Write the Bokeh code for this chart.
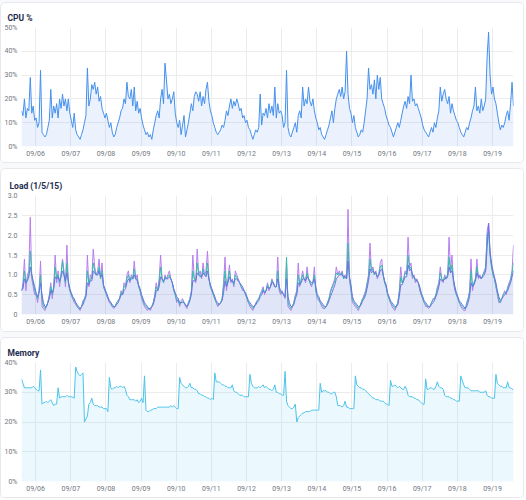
import pandas as pd
from bokeh.plotting import figure
from bokeh.models import (ColumnDataSource, Range1d, FixedTicker, DatetimeTickFormatter,
                          PrintfTickFormatter, LinearAxis)
from bokeh.layouts import column
from bokeh.embed import file_html
from bokeh.resources import INLINE

# Hourly samples starting at this timestamp
START = "2024-09-05 14:20"

# Day ticks on the time axis
day_ticks = ["2024-09-06", "2024-09-07", "2024-09-08", "2024-09-09", "2024-09-10",
             "2024-09-11", "2024-09-12", "2024-09-13", "2024-09-14", "2024-09-15",
             "2024-09-16", "2024-09-17", "2024-09-18", "2024-09-19"]

# CPU usage, percent (one row per day)
cpu_pct = [
    15, 13, 20, 12, 16, 15, 29, 14, 17, 11,
    12, 8, 10, 32, 6, 5, 4, 5, 8, 11, 24, 12, 17, 14, 18, 12, 20, 16, 22, 17, 20, 15, 20, 14,
    11, 8, 14, 7, 5, 4, 3, 5, 7, 10, 13, 33, 17, 20, 26, 24, 27, 22, 25, 19, 21, 16, 14, 12,
    14, 11, 8, 10, 6, 4, 5, 8, 10, 12, 15, 16, 20, 18, 27, 21, 20, 24, 17, 25, 15, 19, 14, 16,
    12, 9, 7, 5, 6, 4, 5, 3, 7, 10, 13, 15, 12, 20, 24, 18, 35, 28, 20, 22, 18, 20, 23, 14,
    10, 8, 11, 5, 9, 13, 4, 7, 10, 14, 18, 15, 21, 23, 22, 19, 23, 17, 21, 18, 24, 27, 19, 15,
    13, 10, 8, 6, 5, 6, 7, 9, 8, 11, 15, 13, 17, 20, 16, 19, 17, 20, 18, 15, 16, 12, 13, 10,
    11, 8, 7, 5, 3, 5, 7, 6, 8, 22, 9, 14, 13, 16, 12, 18, 14, 17, 13, 25, 12, 18, 14, 15,
    13, 8, 10, 32, 8, 5, 4, 6, 8, 10, 6, 13, 15, 12, 25, 17, 20, 18, 25, 19, 17, 20, 15, 12,
    10, 7, 8, 5, 4, 3, 5, 7, 9, 12, 15, 10, 16, 20, 22, 24, 21, 25, 20, 23, 40, 22, 16, 14,
    10, 13, 8, 6, 4, 5, 7, 6, 10, 15, 20, 33, 24, 26, 22, 28, 20, 30, 24, 29, 20, 18, 16, 13,
    11, 9, 8, 6, 4, 6, 8, 10, 8, 11, 14, 17, 19, 16, 21, 18, 30, 19, 20, 17, 18, 16, 14, 12,
    9, 7, 6, 5, 4, 6, 8, 6, 10, 8, 12, 15, 25, 19, 22, 24, 20, 18, 21, 14, 18, 15, 13, 11,
    10, 8, 6, 5, 4, 6, 8, 7, 10, 12, 15, 17, 25, 15, 17, 14, 20, 15, 17, 20, 38, 48, 30, 22,
    25, 20, 18, 14, 10, 7, 9, 8, 10, 13, 15, 11, 18, 27, 17,
]

# 1-minute load average
load_1 = [
    0.6, 0.8, 1.4, 0.6, 1.0, 1.1, 2.45, 0.9, 0.7, 0.5,
    0.5, 0.3, 0.6, 1.35, 0.2, 0.15, 0.1, 0.2, 0.3, 0.5, 0.8, 0.4, 0.7, 1.5, 0.8, 1.1, 0.7, 1.0, 1.4, 1.1, 0.7, 1.75, 0.8, 0.6,
    0.5, 0.4, 0.3, 0.25, 0.2, 0.15, 0.1, 0.2, 0.35, 0.4, 0.5, 1.5, 0.7, 1.0, 0.9, 1.65, 1.2, 1.0, 1.1, 1.4, 0.9, 1.3, 0.7, 0.6,
    0.5, 0.4, 0.3, 0.25, 0.2, 0.15, 0.2, 0.3, 0.35, 0.4, 0.6, 0.5, 0.8, 0.7, 1.0, 1.1, 0.8, 1.0, 0.9, 1.35, 0.9, 1.0, 0.7, 0.6,
    0.4, 0.3, 0.2, 0.15, 0.1, 0.15, 0.1, 0.2, 0.3, 0.5, 0.8, 0.6, 0.9, 1.5, 0.9, 0.8, 1.0, 0.9, 1.0, 1.1, 0.9, 0.8, 0.6, 0.5,
    0.3, 0.4, 0.2, 0.35, 0.4, 0.3, 0.2, 0.15, 0.3, 0.4, 0.6, 1.5, 0.9, 0.8, 1.65, 1.0, 1.1, 0.9, 1.3, 1.0, 1.1, 1.6, 0.9, 0.7,
    0.6, 0.5, 0.4, 0.3, 0.2, 0.25, 0.3, 0.4, 0.8, 1.45, 0.6, 0.9, 1.25, 0.8, 0.9, 0.7, 1.1, 1.0, 0.9, 0.8, 0.7, 0.6, 0.6, 0.5,
    0.4, 0.3, 0.2, 0.15, 0.1, 0.2, 0.3, 0.35, 0.4, 0.5, 0.6, 0.7, 0.5, 0.6, 0.8, 0.6, 0.7, 0.9, 0.8, 0.7, 0.7, 1.45, 0.6, 0.5,
    0.6, 0.5, 0.4, 1.3, 0.2, 0.15, 0.1, 0.2, 0.3, 0.5, 0.6, 1.3, 0.7, 0.9, 1.1, 0.9, 0.8, 1.2, 0.9, 0.8, 0.7, 0.8, 1.2, 0.6,
    0.4, 0.35, 0.3, 0.2, 0.15, 0.15, 0.2, 0.3, 0.4, 0.6, 0.7, 0.8, 0.9, 1.2, 1.0, 1.1, 1.0, 1.1, 0.9, 1.0, 0.9, 2.65, 0.9, 0.6,
    0.3, 0.25, 0.2, 0.15, 0.1, 0.2, 0.3, 0.4, 0.5, 0.6, 0.8, 1.0, 1.8, 1.1, 1.2, 1.0, 1.1, 0.9, 1.0, 1.3, 1.4, 1.0, 0.8, 0.7,
    0.5, 0.4, 0.3, 0.2, 0.15, 0.1, 0.2, 0.3, 0.6, 1.2, 0.8, 0.9, 1.1, 1.0, 1.95, 1.2, 1.3, 0.9, 1.0, 0.8, 0.9, 0.8, 0.6, 0.5,
    0.4, 0.3, 0.2, 0.2, 0.15, 0.2, 0.3, 0.4, 0.4, 0.5, 0.7, 0.8, 1.2, 0.9, 0.8, 1.0, 0.9, 1.0, 1.95, 1.1, 1.5, 0.8, 0.6, 0.5,
    0.4, 0.3, 0.2, 0.15, 0.1, 0.1, 0.3, 0.4, 0.6, 1.4, 0.6, 0.8, 0.9, 1.4, 0.9, 1.0, 0.9, 1.0, 1.1, 1.2, 2.1, 2.3, 1.5, 1.2,
    1.0, 0.9, 0.7, 0.5, 0.3, 0.3, 0.4, 0.5, 0.6, 0.5, 0.7, 0.8, 0.9, 1.1, 1.75,
]

# 5-minute load average
load_5 = [
    0.6, 0.7, 1.1, 0.8, 0.9, 1.0, 1.6, 1.0, 0.8, 0.6,
    0.5, 0.4, 0.6, 1.0, 0.4, 0.2, 0.15, 0.2, 0.3, 0.45, 0.7, 0.5, 0.7, 1.2, 0.9, 1.0, 0.8, 1.0, 1.35, 1.0, 0.8, 1.3, 0.8, 0.6,
    0.5, 0.4, 0.35, 0.3, 0.2, 0.15, 0.15, 0.2, 0.3, 0.4, 0.5, 1.1, 0.8, 0.9, 0.9, 1.3, 1.1, 1.0, 1.0, 1.2, 0.9, 1.1, 0.7, 0.6,
    0.5, 0.4, 0.35, 0.3, 0.2, 0.2, 0.2, 0.3, 0.35, 0.4, 0.55, 0.5, 0.7, 0.7, 0.9, 1.0, 0.85, 0.95, 0.9, 1.15, 0.9, 0.9, 0.7, 0.6,
    0.45, 0.35, 0.25, 0.2, 0.15, 0.15, 0.15, 0.2, 0.3, 0.45, 0.7, 0.6, 0.8, 1.2, 0.9, 0.8, 0.95, 0.9, 0.95, 1.0, 0.9, 0.8, 0.6, 0.5,
    0.35, 0.35, 0.25, 0.3, 0.35, 0.3, 0.25, 0.2, 0.3, 0.4, 0.55, 1.1, 0.9, 0.85, 1.3, 1.0, 1.0, 0.95, 1.15, 1.0, 1.0, 1.3, 0.9, 0.7,
    0.6, 0.5, 0.4, 0.3, 0.25, 0.25, 0.3, 0.4, 0.7, 1.1, 0.7, 0.85, 1.1, 0.85, 0.85, 0.75, 1.0, 0.95, 0.85, 0.8, 0.7, 0.65, 0.6, 0.5,
    0.4, 0.3, 0.25, 0.2, 0.15, 0.2, 0.25, 0.35, 0.4, 0.5, 0.55, 0.65, 0.55, 0.6, 0.75, 0.65, 0.7, 0.85, 0.8, 0.7, 0.7, 1.1, 0.65, 0.55,
    0.55, 0.5, 0.45, 1.45, 0.3, 0.2, 0.15, 0.2, 0.3, 0.45, 0.55, 1.0, 0.75, 0.85, 1.0, 0.9, 0.85, 1.05, 0.9, 0.8, 0.75, 0.8, 1.0, 0.6,
    0.45, 0.4, 0.3, 0.25, 0.2, 0.15, 0.2, 0.3, 0.4, 0.55, 0.65, 0.75, 0.85, 1.05, 1.0, 1.05, 1.0, 1.05, 0.9, 0.95, 0.9, 1.8, 0.9, 0.65,
    0.35, 0.3, 0.25, 0.2, 0.15, 0.2, 0.3, 0.4, 0.45, 0.55, 0.75, 0.95, 1.4, 1.1, 1.15, 1.0, 1.05, 0.95, 1.0, 1.2, 1.25, 1.0, 0.8, 0.7,
    0.5, 0.4, 0.3, 0.25, 0.2, 0.15, 0.2, 0.3, 0.55, 0.95, 0.8, 0.9, 1.05, 1.0, 1.5, 1.15, 1.2, 0.95, 0.95, 0.85, 0.85, 0.8, 0.65, 0.5,
    0.4, 0.3, 0.25, 0.2, 0.2, 0.2, 0.3, 0.35, 0.4, 0.5, 0.65, 0.75, 1.05, 0.9, 0.85, 0.95, 0.9, 1.0, 1.45, 1.05, 1.25, 0.85, 0.65, 0.5,
    0.4, 0.3, 0.25, 0.2, 0.15, 0.15, 0.25, 0.4, 0.55, 1.1, 0.7, 0.8, 0.9, 1.2, 0.95, 0.95, 0.9, 1.0, 1.05, 1.15, 2.0, 2.1, 1.5, 1.2,
    1.0, 0.9, 0.7, 0.55, 0.35, 0.3, 0.4, 0.5, 0.55, 0.55, 0.65, 0.75, 0.85, 1.05, 1.3,
]

# 15-minute load average
load_15 = [
    0.6, 0.65, 0.9, 0.8, 0.85, 0.95, 1.2, 1.0, 0.85, 0.7,
    0.55, 0.45, 0.55, 0.8, 0.5, 0.3, 0.2, 0.2, 0.3, 0.4, 0.6, 0.55, 0.65, 0.95, 0.9, 0.95, 0.85, 0.95, 1.1, 1.0, 0.85, 1.05, 0.85, 0.65,
    0.55, 0.45, 0.4, 0.3, 0.25, 0.2, 0.15, 0.2, 0.25, 0.35, 0.45, 0.8, 0.75, 0.85, 0.85, 1.1, 1.05, 1.0, 1.0, 1.1, 0.95, 1.0, 0.75, 0.65,
    0.55, 0.45, 0.35, 0.3, 0.25, 0.2, 0.2, 0.25, 0.3, 0.4, 0.5, 0.5, 0.6, 0.65, 0.8, 0.9, 0.85, 0.9, 0.9, 1.0, 0.9, 0.85, 0.75, 0.65,
    0.5, 0.4, 0.3, 0.25, 0.2, 0.15, 0.15, 0.2, 0.25, 0.4, 0.6, 0.6, 0.7, 0.95, 0.9, 0.85, 0.9, 0.9, 0.9, 0.95, 0.9, 0.8, 0.65, 0.55,
    0.45, 0.4, 0.3, 0.3, 0.3, 0.3, 0.25, 0.2, 0.25, 0.35, 0.5, 0.85, 0.85, 0.85, 1.05, 1.0, 0.95, 0.95, 1.05, 1.0, 0.95, 1.1, 0.9, 0.75,
    0.65, 0.55, 0.45, 0.35, 0.3, 0.25, 0.3, 0.35, 0.55, 0.85, 0.7, 0.8, 0.95, 0.85, 0.85, 0.8, 0.9, 0.9, 0.85, 0.8, 0.75, 0.7, 0.6, 0.55,
    0.45, 0.35, 0.3, 0.25, 0.2, 0.2, 0.25, 0.3, 0.35, 0.45, 0.5, 0.6, 0.55, 0.6, 0.7, 0.65, 0.7, 0.8, 0.8, 0.7, 0.7, 0.9, 0.7, 0.6,
    0.55, 0.5, 0.45, 0.9, 0.45, 0.3, 0.2, 0.2, 0.25, 0.4, 0.5, 0.8, 0.75, 0.8, 0.9, 0.9, 0.85, 0.95, 0.9, 0.85, 0.8, 0.8, 0.9, 0.7,
    0.5, 0.45, 0.35, 0.3, 0.25, 0.2, 0.2, 0.25, 0.35, 0.45, 0.55, 0.65, 0.75, 0.9, 0.95, 1.0, 1.0, 1.0, 0.95, 0.95, 0.9, 1.35, 0.95, 0.75,
    0.45, 0.35, 0.3, 0.25, 0.2, 0.2, 0.25, 0.35, 0.4, 0.5, 0.65, 0.85, 1.15, 1.05, 1.1, 1.05, 1.05, 0.95, 1.0, 1.1, 1.15, 1.0, 0.85, 0.75,
    0.55, 0.45, 0.35, 0.3, 0.25, 0.2, 0.2, 0.25, 0.45, 0.75, 0.75, 0.85, 0.95, 0.95, 1.25, 1.1, 1.15, 1.0, 0.95, 0.9, 0.85, 0.8, 0.7, 0.55,
    0.45, 0.35, 0.3, 0.25, 0.2, 0.2, 0.25, 0.3, 0.35, 0.45, 0.55, 0.7, 0.9, 0.85, 0.85, 0.9, 0.9, 0.95, 1.2, 1.05, 1.1, 0.9, 0.7, 0.55,
    0.45, 0.35, 0.3, 0.25, 0.2, 0.15, 0.2, 0.3, 0.45, 0.8, 0.7, 0.75, 0.85, 1.05, 0.95, 0.95, 0.9, 0.95, 1.0, 1.1, 1.7, 2.3, 1.6, 1.3,
    1.1, 0.95, 0.8, 0.6, 0.45, 0.35, 0.4, 0.45, 0.5, 0.55, 0.6, 0.7, 0.8, 0.95, 1.1,
]

# Memory usage, percent
memory_pct = [
    34.5, 33, 31.5, 31.5, 31.5, 31.5, 31.5, 31.5, 32, 31.5,
    31, 30.5, 30.5, 37.5, 26, 26.5, 26.5, 27, 26.5, 27, 27.5, 26.5, 25.5, 26, 26, 31.5, 28, 28.5, 28.5, 28.5, 28.5, 29, 28.5, 28.5,
    28.5, 28.3, 28, 38.5, 37, 36, 35.5, 36, 36.5, 20, 21, 22, 26, 26.5, 28, 26, 25.5, 25.5, 25.5, 25, 25, 25, 24.5, 24.5,
    24.5, 23.5, 35, 31.5, 31, 31.5, 31.5, 32, 31.5, 32, 32, 31.5, 32, 31, 29, 28.5, 27.5, 27.5, 27.5, 27.5, 27, 27.5, 26.5, 27,
    28, 26.5, 35.5, 24, 23.5, 23.5, 24, 24, 24.5, 24.5, 24.5, 25, 25, 25, 25, 25, 25, 25, 25, 25, 25.5, 25, 25.5, 25,
    24.5, 24.5, 35, 33, 32.5, 32, 31.5, 31.5, 32, 33, 31.5, 31.5, 31, 31, 30.5, 29.5, 29.5, 29, 29, 28.5, 28.5, 28, 28, 27.5,
    28, 27.5, 36.5, 33.5, 33.5, 33.5, 33, 32.5, 32.5, 32, 32, 31.5, 31.5, 31.5, 32.5, 30.5, 30, 30, 29.5, 29, 29, 29, 28.5, 28.5,
    28.5, 28.5, 36, 33, 32, 31.5, 31.5, 31.5, 32, 31.5, 32, 32.5, 31.5, 32, 31.5, 31, 31, 30.5, 31, 32.5, 30, 30, 29.5, 29.5,
    29, 29, 37, 27, 25.5, 25, 24.5, 24.5, 25, 26, 20, 21.5, 22, 22.5, 23, 23, 23.5, 23.5, 23.5, 23.5, 24, 24, 24, 24,
    24, 24, 33, 30, 30.5, 30.5, 30.5, 30, 30, 29.5, 29.5, 30, 30, 28.5, 25.5, 25.5, 25.5, 25, 25.5, 27, 25, 25, 24.5, 24.5,
    24.5, 24.5, 35.5, 32.5, 32, 31.5, 31.5, 31, 31, 30.5, 30, 29.5, 29, 28.5, 28, 28, 27.5, 27.5, 27.5, 27, 27, 27, 26.5, 26,
    26, 25.5, 34, 32, 32, 32.5, 32, 31.5, 32, 31.5, 31, 31, 32, 31, 29, 28.5, 28.5, 28.5, 28, 28, 27.5, 27.5, 27, 26.5,
    26, 26, 34.5, 31, 31, 31.5, 31.5, 31, 31, 32, 33.5, 32, 31.5, 31.5, 31, 29, 28.5, 28.5, 28.5, 28, 28, 27.5, 27.5, 27,
    27, 27, 35.5, 34, 32.5, 31.5, 31.5, 31.5, 31, 30.5, 30.5, 30.5, 30.5, 30.5, 30.5, 30, 30, 30, 30, 30.5, 29, 28.5, 28.5, 28,
    28, 28, 36, 33, 32.5, 32, 32, 31.5, 31.5, 31.5, 33.5, 31.5, 31.5, 31, 31,
]

FONT = "Roboto"
TITLE_COLOR = "#1d2a4d"
TICK_COLOR = "#72767e"
GRID_COLOR = "#ececec"


def stamps(n):
    return pd.date_range(START, periods=n, freq="h")


def card(title, ymax, yticks, yfmt, left, height, top, bottom, title_lift, overrides=None):
    t = stamps(len(cpu_pct))
    p = figure(width=524, height=height, x_axis_type="datetime",
               x_range=Range1d(t[0], t[-1]), y_range=Range1d(0, ymax),
               output_backend="svg", toolbar_location=None,
               min_border_left=left, min_border_right=12,
               min_border_top=top, min_border_bottom=bottom,
               background_fill_color="white", border_fill_color="white",
               outline_line_color=None,
               styles={"border": "1px solid #e6e8ec", "border-radius": "5px",
                       "overflow": "hidden", "background-color": "white"})
    p.title.text = title
    p.title.align = "left"
    p.title.offset = 6 - left
    p.title.text_font = FONT
    p.title.text_font_size = "8.5px"
    p.title.text_font_style = "bold"
    p.title.text_color = TITLE_COLOR

    xa = p.below[0]
    ya = p.left[0]
    xa.ticker = FixedTicker(ticks=[pd.Timestamp(d).value / 1e6 for d in day_ticks])
    xa.formatter = DatetimeTickFormatter(days="%m/%d", months="%m/%d", hours="%m/%d",
                                         years="%m/%d")
    ya.ticker = FixedTicker(ticks=yticks)
    ya.formatter = PrintfTickFormatter(format=yfmt)
    if overrides:
        ya.major_label_overrides = overrides
    for ax in (xa, ya):
        ax.axis_line_color = None
        ax.major_tick_line_color = None
        ax.minor_tick_line_color = None
        ax.major_tick_out = 0
        ax.major_tick_in = 0
        ax.minor_tick_out = 0
        ax.minor_tick_in = 0
        ax.major_label_text_font = FONT
        ax.major_label_text_font_size = "7px"
        ax.major_label_text_color = TICK_COLOR
    xa.major_label_standoff = 3
    ya.major_label_standoff = 4
    p.xgrid.ticker = xa.ticker
    p.ygrid.ticker = ya.ticker
    p.xgrid.grid_line_color = GRID_COLOR
    p.ygrid.grid_line_color = GRID_COLOR

    # empty band between the title and the plot area
    gap = LinearAxis(ticker=FixedTicker(ticks=[]), axis_line_color=None,
                     major_tick_line_color=None, minor_tick_line_color=None,
                     major_tick_out=title_lift, major_tick_in=0, minor_tick_out=0,
                     minor_tick_in=0, major_label_standoff=0,
                     major_label_text_font_size="1px")
    p.add_layout(gap, "above")
    return p


# CPU
cpu_src = ColumnDataSource(dict(t=stamps(len(cpu_pct)), v=cpu_pct))
p_cpu = card("CPU %", 50, [0, 10, 20, 30, 40, 50], "%d%%", 20, 161, 24, 18, 6)
p_cpu.varea(x="t", y1=0, y2="v", source=cpu_src, fill_color="#3b82f6", fill_alpha=0.1)
p_cpu.line(x="t", y="v", source=cpu_src, line_color="#4590ec", line_width=1)

# Load averages
load_src = ColumnDataSource(dict(t=stamps(len(load_1)), l1=load_1, l5=load_5, l15=load_15))
p_load = card("Load (1/5/15)", 3, [0, 0.5, 1.0, 1.5, 2.0, 2.5, 3.0], "%.1f", 18, 164, 26, 19, 7,
              overrides={0: "0"})
p_load.varea(x="t", y1=0, y2="l15", source=load_src, fill_color="#5b6fd6", fill_alpha=0.18)
p_load.line(x="t", y="l1", source=load_src, line_color="#b77df0", line_width=1)
p_load.line(x="t", y="l5", source=load_src, line_color="#35bca9", line_width=1)
p_load.line(x="t", y="l15", source=load_src, line_color="#6a72e3", line_width=1)

# Memory
mem_src = ColumnDataSource(dict(t=stamps(len(memory_pct)), v=memory_pct))
p_mem = card("Memory", 40, [0, 10, 20, 30, 40], "%d%%", 20, 161, 24, 18, 6)
p_mem.varea(x="t", y1=0, y2="v", source=mem_src, fill_color="#38bdf8", fill_alpha=0.1)
p_mem.line(x="t", y="v", source=mem_src, line_color="#4cc3ea", line_width=1)

layout = column(p_cpu, p_load, p_mem, spacing=5,
                styles={"padding-top": "2px", "background-color": "#f8f9fb"})

open("out.html", "w").write(file_html(layout, INLINE))
